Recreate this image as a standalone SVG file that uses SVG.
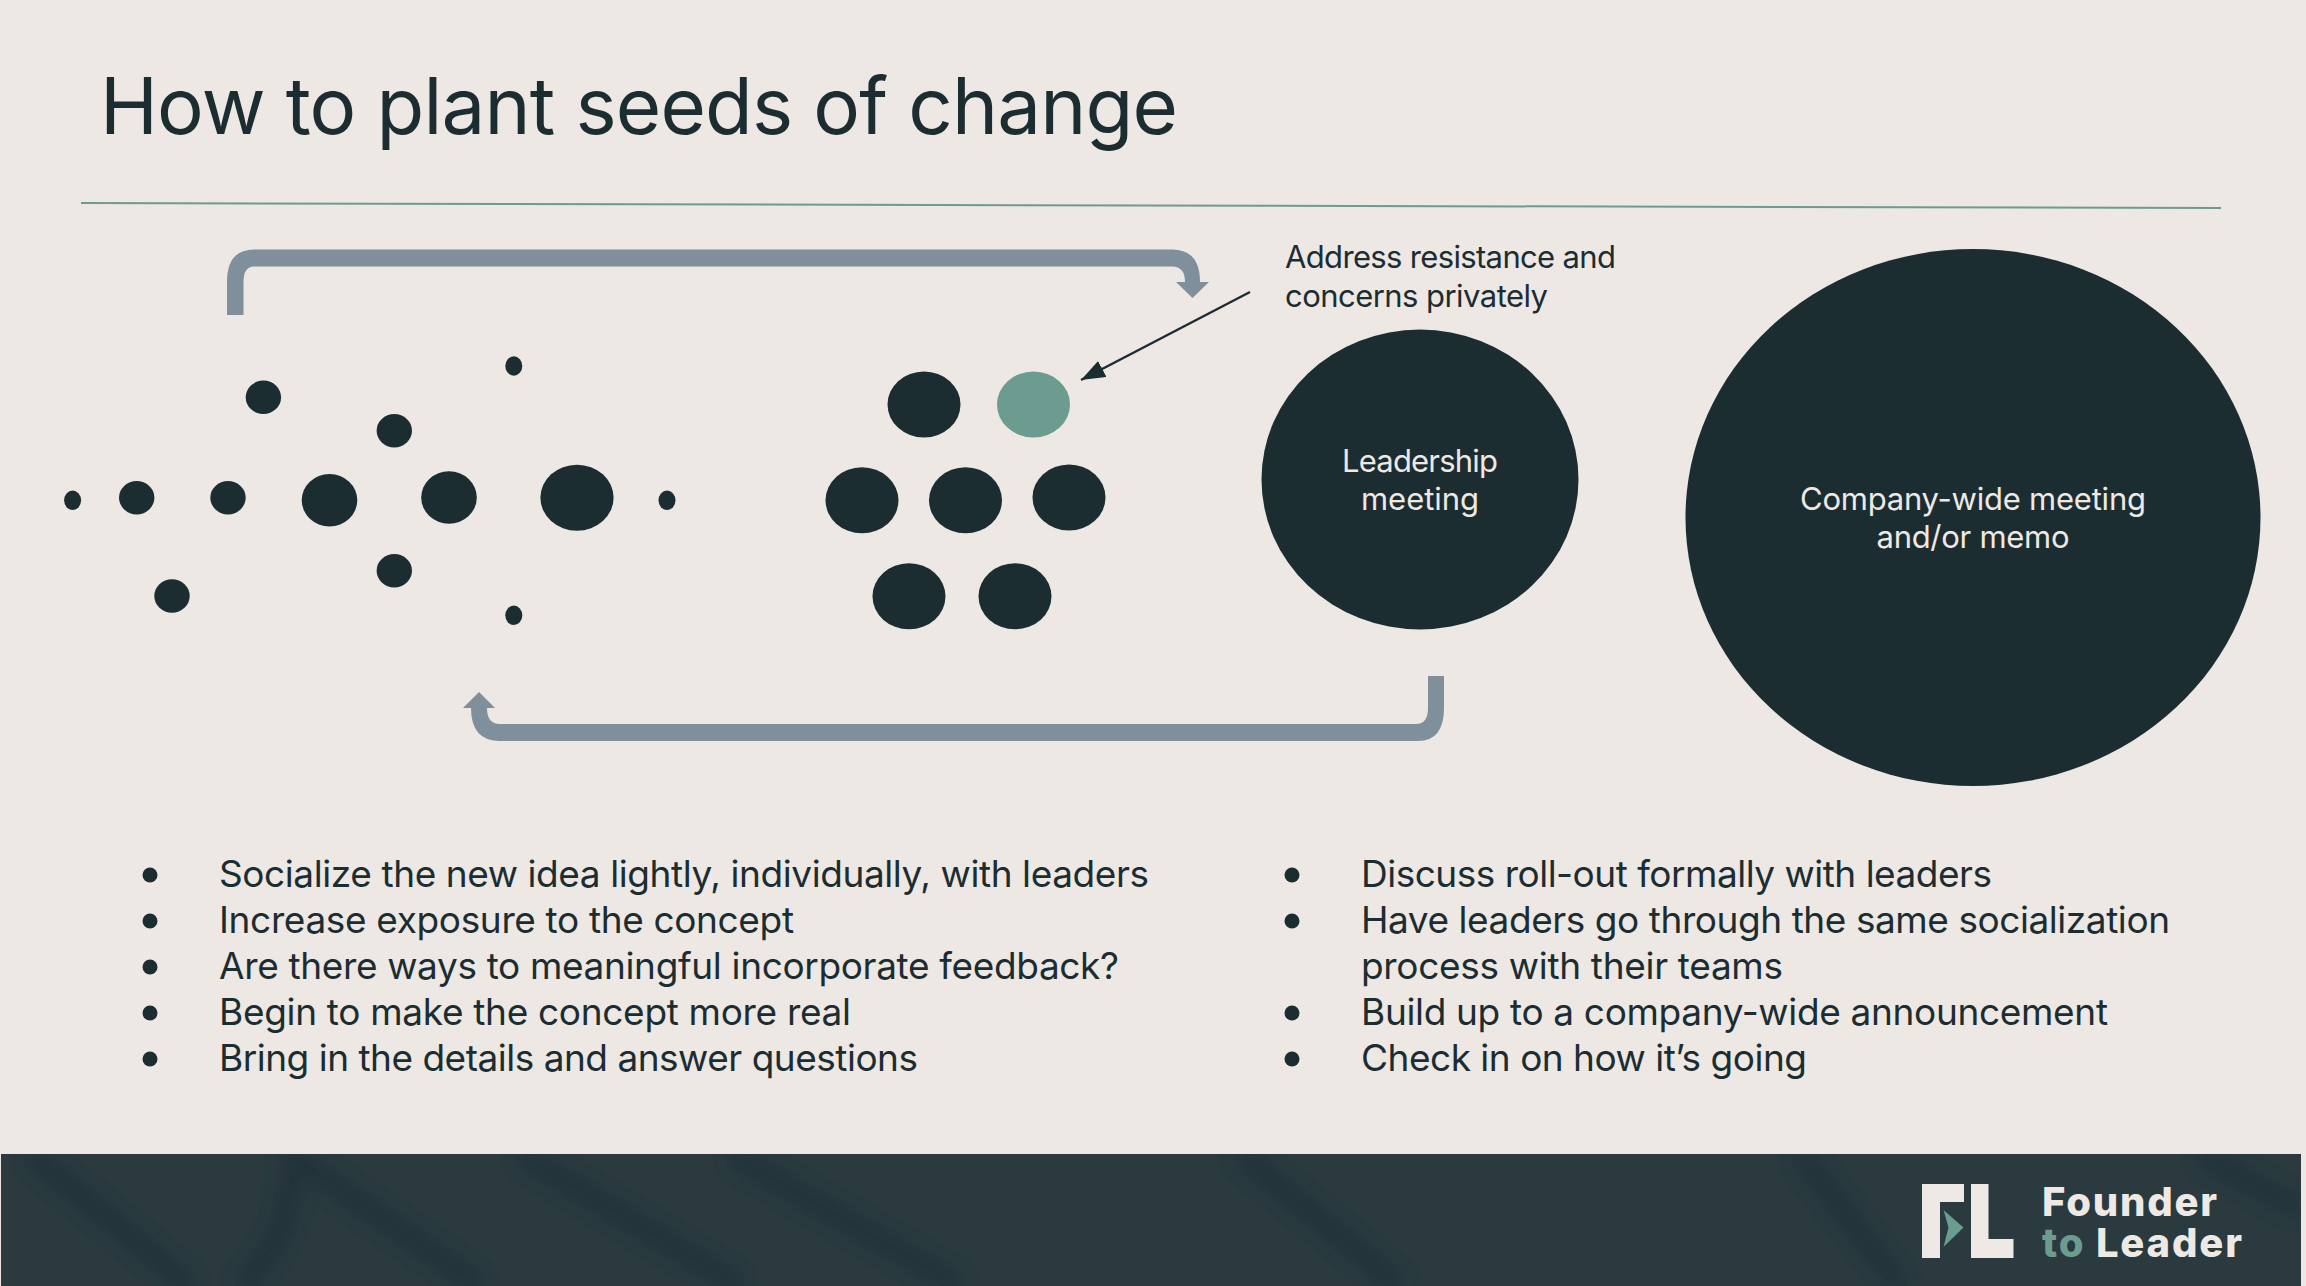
<svg xmlns="http://www.w3.org/2000/svg" width="2306" height="1286" viewBox="0 0 2306 1286">
<defs>
<style>
text{font-family:"Inter","Liberation Sans",sans-serif;fill:#1c2d32}
.t{font-size:78px;font-weight:400}
.b{font-size:37px}
.s{font-size:31px}
.w{fill:#eee9e4;text-anchor:middle}
.d{fill:#1c2d32}
.g{fill:#6b9c8f}
.a{fill:#7f8f9b}
.k{fill:#eee9e4}
.l{font-size:40px;font-weight:800;fill:#eee9e4}
</style>
<marker id="thin" markerUnits="userSpaceOnUse" markerWidth="26" markerHeight="20" refX="24" refY="9" orient="auto"><path d="M0 0 L24 9 L0 18z" fill="#1c2d32"/></marker>
<filter id="blur" x="-20%" y="-20%" width="140%" height="140%"><feGaussianBlur stdDeviation="9"/></filter>
<clipPath id="fc"><rect x="1" y="1154" width="2300" height="132"/></clipPath>
</defs>
<rect width="2306" height="1286" fill="#ede8e3"/>
<g id="footer">
<rect x="1" y="1154" width="2300" height="132" fill="#2a3a3f"/>
<g clip-path="url(#fc)" fill="none" stroke="#23333a" stroke-width="20" filter="url(#blur)">
<path d="M30 1154 L190 1286"/><path d="M290 1154 L480 1286"/><path d="M520 1154 L740 1286"/><path d="M730 1154 L960 1286"/>
<path d="M290 1154 Q300 1230 240 1286"/><path d="M1240 1154 L1400 1286"/><path d="M1800 1154 L1900 1286"/><path d="M2200 1154 L2300 1210"/>
</g>
</g>
<g id="title"><text class="t" x="100" y="134" textLength="1078" lengthAdjust="spacing">How to plant seeds of change</text></g>
<line id="divider" x1="81" y1="203" x2="2221" y2="208" stroke="#6b9c8f" stroke-width="2"/>
<g id="connectors">
<path id="loop-top" class="a" d="M227 315 V282 Q227 249.500 254 249.500 H1172 Q1200 249.500 1200 282 H1209 L1192.500 298 L1176 282 H1185 Q1185 266.500 1172 266.500 H254 Q243.500 266.500 243.500 282 V315z"/>
<path id="loop-bottom" class="a" d="M1444 676 V708 Q1444 741 1418 741 H500 Q471 741 471 708 H463 L479 692 L495 708 H487 Q487 724 500 724 H1416 Q1428 724 1428 708 V676z"/>
<line id="note-arrow" x1="1250" y1="292" x2="1081" y2="380" stroke="#1c2d32" stroke-width="2.500" marker-end="url(#thin)"/>
</g>
<g id="seeds-scattered" class="d">
<ellipse cx="72.600" cy="500.300" rx="8.500" ry="9.700"/>
<ellipse cx="136.700" cy="497.700" rx="17.700" ry="16.700"/>
<ellipse cx="228" cy="497.700" rx="17.700" ry="16.700"/>
<ellipse cx="329.500" cy="500.200" rx="27.800" ry="26.200"/>
<ellipse cx="449" cy="497.500" rx="27.800" ry="26.200"/>
<ellipse cx="577" cy="497.700" rx="36.600" ry="33"/>
<ellipse cx="667" cy="500.300" rx="8.500" ry="9.700"/>
<ellipse cx="263.400" cy="397.300" rx="17.700" ry="16.700"/>
<ellipse cx="394.300" cy="430.700" rx="17.700" ry="16.700"/>
<ellipse cx="513.800" cy="366" rx="8.500" ry="9.700"/>
<ellipse cx="394.300" cy="570.700" rx="17.700" ry="16.700"/>
<ellipse cx="172" cy="596" rx="17.700" ry="16.700"/>
<ellipse cx="513.800" cy="615.300" rx="8.500" ry="9.700"/>
</g>
<g id="seeds-cluster" class="d">
<ellipse cx="924" cy="404.500" rx="36.500" ry="33"/>
<ellipse id="resistant" class="g" cx="1033.500" cy="404.500" rx="36.500" ry="33"/>
<ellipse cx="862" cy="500.300" rx="36.500" ry="33"/>
<ellipse cx="965.500" cy="500.300" rx="36.500" ry="33"/>
<ellipse cx="1069" cy="497.500" rx="36.500" ry="33"/>
<ellipse cx="909" cy="596.300" rx="36.500" ry="33"/>
<ellipse cx="1015" cy="596.300" rx="36.500" ry="33"/>
</g>
<g id="note">
<text class="s" x="1285" y="268" textLength="331" lengthAdjust="spacing">Address resistance and</text>
<text class="s" x="1285" y="307" textLength="263" lengthAdjust="spacing">concerns privately</text>
</g>
<g id="leadership-meeting">
<ellipse class="d" cx="1420" cy="479.500" rx="158.500" ry="150"/>
<text class="s w" x="1420" y="472" textLength="156" lengthAdjust="spacing">Leadership</text>
<text class="s w" x="1420" y="510" textLength="118" lengthAdjust="spacing">meeting</text>
</g>
<g id="company-meeting">
<ellipse class="d" cx="1973" cy="517.500" rx="287.500" ry="268.500"/>
<text class="s w" x="1973" y="510" textLength="346" lengthAdjust="spacing">Company-wide meeting</text>
<text class="s w" x="1973" y="548" textLength="193" lengthAdjust="spacing">and/or memo</text>
</g>
<g id="list-left">
<g class="d"><circle cx="150" cy="875" r="7.500"/><circle cx="150" cy="921" r="7.500"/><circle cx="150" cy="967" r="7.500"/><circle cx="150" cy="1013" r="7.500"/><circle cx="150" cy="1059" r="7.500"/></g>
<text class="b" x="219" y="887" textLength="930" lengthAdjust="spacing">Socialize the new idea lightly, individually, with leaders</text>
<text class="b" x="219" y="933" textLength="575" lengthAdjust="spacing">Increase exposure to the concept</text>
<text class="b" x="219" y="979" textLength="900" lengthAdjust="spacing">Are there ways to meaningful incorporate feedback?</text>
<text class="b" x="219" y="1025" textLength="632" lengthAdjust="spacing">Begin to make the concept more real</text>
<text class="b" x="219" y="1071" textLength="699" lengthAdjust="spacing">Bring in the details and answer questions</text>
</g>
<g id="list-right">
<g class="d"><circle cx="1292" cy="875" r="7.500"/><circle cx="1292" cy="921" r="7.500"/><circle cx="1292" cy="1013" r="7.500"/><circle cx="1292" cy="1059" r="7.500"/></g>
<text class="b" x="1361" y="887" textLength="631" lengthAdjust="spacing">Discuss roll-out formally with leaders</text>
<text class="b" x="1361" y="933" textLength="809" lengthAdjust="spacing">Have leaders go through the same socialization</text>
<text class="b" x="1361" y="979" textLength="422" lengthAdjust="spacing">process with their teams</text>
<text class="b" x="1361" y="1025" textLength="747" lengthAdjust="spacing">Build up to a company-wide announcement</text>
<text class="b" x="1361" y="1071" textLength="446" lengthAdjust="spacing">Check in on how it’s going</text>
</g>
<g id="logo">
<path class="k" d="M1922 1184 H1964 V1202 H1940 V1258 H1922z"/>
<path class="k" d="M1971 1184 H1988.500 V1239 H2013.500 V1258 H1971z"/>
<path class="g" d="M1943.500 1210 L1963.500 1227.500 L1943.500 1247 L1948.500 1227.500z"/>
<text class="l" x="2042" y="1216" textLength="175" lengthAdjust="spacing">Founder</text>
<text class="l" x="2042" y="1257" textLength="200" lengthAdjust="spacing"><tspan fill="#6b9c8f">to</tspan> Leader</text>
</g>
</svg>
